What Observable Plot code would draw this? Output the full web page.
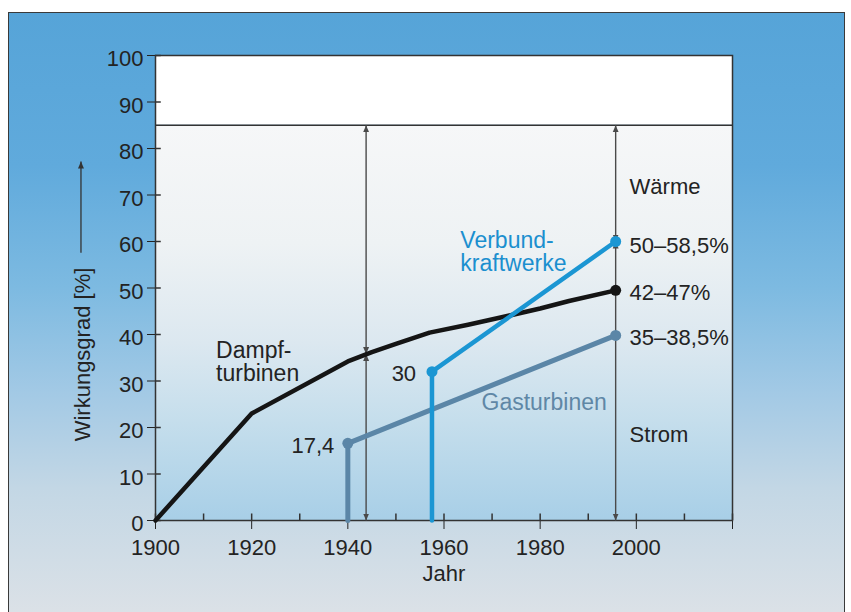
<!DOCTYPE html>
<html><head><meta charset="utf-8">
<script src="https://cdn.jsdelivr.net/npm/d3@7"></script>
<script src="https://cdn.jsdelivr.net/npm/@observablehq/plot@0.6"></script>
<style>
html,body{margin:0;padding:0;background:#fff;}
#wrap{position:relative;width:851px;height:612px;overflow:hidden;background:#fff;}
#bg{position:absolute;left:8px;top:12px;width:835px;height:610px;border:1.5px solid #3a3a3a;border-bottom:none;
background:linear-gradient(to bottom,#56a4d8 0%,#60aadc 25%,#7dbae1 45%,#a2c9e5 62%,#c3d7e5 78%,#dde2e7 100%);}
#chart{position:absolute;left:0;top:0;}
</style></head><body>
<div id="wrap"><div id="bg"></div><div id="chart"></div></div>
<script>
// ---- data ----
const dampfYears   = [1900, 1920, 1940, 1945, 1950, 1957, 1965, 1972, 1980, 1986, 1995.7];
const dampfValues  = [0, 23, 34.2, 36.2, 38.0, 40.4, 42.1, 43.7, 45.6, 47.2, 49.5];
const gasYears     = [1940, 1940, 1995.7];
const gasValues    = [0, 16.6, 39.8];
const verbundYears = [1957.5, 1957.5, 1995.7];
const verbundValues= [0, 32, 60];

// ---- axes ----
const xDomain = [1900, 2020];
const yDomain = [0, 100];
const xMajorTicks = [1900, 1920, 1940, 1960, 1980, 2000, 2020];
const xTickLabels = ["1900", "1920", "1940", "1960", "1980", "2000", ""];
const xMinorTicks = [1900, 1910, 1920, 1930, 1940, 1950, 1960, 1970, 1980, 1990, 2000, 2010, 2020];
const yTicks = [0, 10, 20, 30, 40, 50, 60, 70, 80, 90, 100];
const whiteLimit = 85;

// ---- texts ----
const seriesNames = ["Dampf-\nturbinen", "Verbund-\nkraftwerke", "Gasturbinen"];
const endLabels = ["50–58,5%", "42–47%", "35–38,5%"];
const startLabels = ["30", "17,4"];
const sideLabels = ["Wärme", "Strom"];
const yTitle = "Wirkungsgrad [%]";
const xTitle = "Jahr";

// ---- annotation placement ----
const seriesLabelX = [1912.6, 1963.4, 1967.8];
const seriesLabelY = [34.1, 57.8, 25.4];
const endLabelX = 1998.6;
const endLabelY = [59.0, 49.0, 39.2];
const startLabelX = [1954.2, 1937.2];
const startLabelY = [31.6, 16.1];
const sideLabelY = [71.8, 18.3];
const arrowX = [1943.8, 1995.7];
const arrowSplit = [35.8, 60];
const yTitleArrowX = 1884.5;
const yTitleArrowY = [57.6, 77.2];

const cDampf = "#151515", cGas = "#5b86a7", cVerbund = "#1b96d3", cText = "#232323";

const toPts = (xs, ys) => xs.map((x, i) => ({x, y: ys[i]}));
const dampf = toPts(dampfYears, dampfValues);
const gas = toPts(gasYears, gasValues);
const verbund = toPts(verbundYears, verbundValues);
const last = a => a[a.length - 1];

const segments = [];
arrowX.forEach((x, i) => {
  segments.push({x, y1: yDomain[0], y2: arrowSplit[i]});
  segments.push({x, y1: arrowSplit[i], y2: whiteLimit});
});

function head(color) {
  const m = d3.create("svg:marker")
    .attr("viewBox", "-7 -3.5 8 7")
    .attr("markerWidth", 8).attr("markerHeight", 7)
    .attr("markerUnits", "userSpaceOnUse")
    .attr("orient", "auto-start-reverse")
    .attr("refX", 0).attr("refY", 0)
    .attr("fill", color).attr("stroke", "none");
  m.append("path").attr("d", "M-7,-3L0,0L-7,3Z");
  return m.node();
}

const defs = () => {
  const d = d3.create("svg:defs");
  const g = d.append("linearGradient").attr("id", "plotgrad")
    .attr("x1", 0).attr("y1", 0).attr("x2", 0).attr("y2", 1);
  [["0%", "#f6f7f8"], ["30%", "#eef2f4"], ["55%", "#dce8f0"], ["75%", "#c5deec"], ["100%", "#a8cfe7"]]
    .forEach(([o, c]) => g.append("stop").attr("offset", o).attr("stop-color", c));
  return d.node();
};

const chart = Plot.plot({
  width: 851, height: 612,
  marginLeft: 155, marginRight: 119, marginTop: 55, marginBottom: 92,
  style: {background: "transparent", fontFamily: "'Liberation Sans', Arial, Helvetica, sans-serif", fontSize: "22px", color: cText, overflow: "visible"},
  x: {domain: xDomain, ticks: xMajorTicks, tickFormat: d => xTickLabels[xMajorTicks.indexOf(d)], tickSize: 9, tickPadding: 10, label: null},
  y: {domain: yDomain, ticks: yTicks, tickSize: 8, tickPadding: 4, label: null},
  marks: [
    defs,
    Plot.rect([0], {x1: xDomain[0], x2: xDomain[1], y1: yDomain[0], y2: whiteLimit, fill: "url(#plotgrad)"}),
    Plot.rect([0], {x1: xDomain[0], x2: xDomain[1], y1: whiteLimit, y2: yDomain[1], fill: "white"}),
    Plot.ruleY([whiteLimit], {stroke: "#333", strokeWidth: 1.5}),
    Plot.ruleX(xMinorTicks, {x: d => d, y1: 0, y2: 1.4, stroke: "#333", strokeWidth: 1.5}),
    Plot.ruleY(yTicks, {y: d => d, x1: xDomain[0], x2: xDomain[0] + 1.2, stroke: "#333", strokeWidth: 1.5}),
    Plot.frame({stroke: "#333", strokeWidth: 1.5}),
    Plot.link(segments, {x1: "x", x2: "x", y1: "y1", y2: "y2", stroke: "#4a4a4a", strokeWidth: 1.4, markerStart: head, markerEnd: head}),
    Plot.line(gas, {x: "x", y: "y", stroke: cGas, strokeWidth: 5}),
    Plot.line(dampf, {x: "x", y: "y", stroke: cDampf, strokeWidth: 4.5, strokeLinejoin: "round"}),
    Plot.line(verbund, {x: "x", y: "y", stroke: cVerbund, strokeWidth: 4.5}),
    Plot.dot([gas[1], last(gas)], {x: "x", y: "y", r: 5.5, fill: cGas}),
    Plot.dot([last(dampf)], {x: "x", y: "y", r: 5.5, fill: cDampf}),
    Plot.dot([verbund[1], last(verbund)], {x: "x", y: "y", r: 5.5, fill: cVerbund}),
    Plot.text(seriesNames, {x: (d, i) => seriesLabelX[i], y: (d, i) => seriesLabelY[i], text: d => d, textAnchor: "start", lineHeight: 1.0, fontSize: 23, fill: (d, i) => [cText, "#1b8fcf", "#5f87a6"][i]}),
    Plot.text(endLabels, {x: endLabelX, y: (d, i) => endLabelY[i], text: d => d, textAnchor: "start", fill: cText}),
    Plot.text(sideLabels, {x: endLabelX, y: (d, i) => sideLabelY[i], text: d => d, textAnchor: "start", fill: cText}),
    Plot.text(startLabels, {x: (d, i) => startLabelX[i], y: (d, i) => startLabelY[i], text: d => d, textAnchor: "end", fill: cText}),
    Plot.text([xTitle], {frameAnchor: "bottom", dy: 53, lineAnchor: "middle", textAnchor: "middle", text: d => d, fill: cText}),
    Plot.text([yTitle], {frameAnchor: "left", dx: -73, dy: 66.5, rotate: -90, textAnchor: "middle", lineAnchor: "middle", text: d => d, fill: cText}),
    Plot.link([0], {x1: yTitleArrowX, x2: yTitleArrowX, y1: yTitleArrowY[0], y2: yTitleArrowY[1], stroke: "#333", strokeWidth: 1.3, markerEnd: head})
  ]
});
document.getElementById("chart").appendChild(chart);

// nudge y tick labels slightly downward as in the original
d3.select(chart).selectAll('g[aria-label^="y-axis"] text').each(function () {
  if (this.hasAttribute("dy")) this.setAttribute("dy", "0.48em");
  else this.setAttribute("dy", "0.16em");
});
</script>
</body></html>
